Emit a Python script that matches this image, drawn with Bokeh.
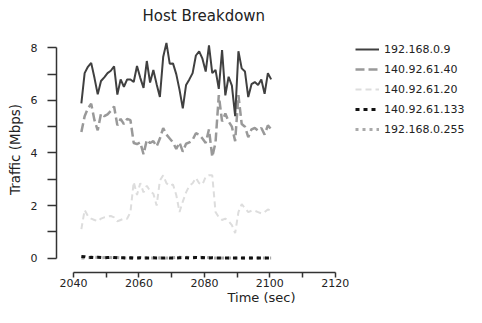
from bokeh.plotting import figure
from bokeh.models import Range1d, FixedTicker, Legend, LegendItem
from bokeh.embed import file_html
from bokeh.resources import INLINE

time_sec = [2042.4, 2043.4, 2044.4, 2045.4, 2046.4, 2047.4, 2048.4, 2049.4, 2050.4, 2051.4,
            2052.4, 2053.4, 2054.4, 2055.4, 2056.4, 2057.4, 2058.4, 2059.4, 2060.4, 2061.4,
            2062.4, 2063.4, 2064.4, 2065.4, 2066.4, 2067.4, 2068.4, 2069.4, 2070.4, 2071.4,
            2072.4, 2073.4, 2074.4, 2075.4, 2076.4, 2077.4, 2078.4, 2079.4, 2080.4, 2081.4,
            2082.4, 2083.4, 2084.4, 2085.4, 2086.4, 2087.4, 2088.4, 2089.4, 2090.4, 2091.4,
            2092.4, 2093.4, 2094.4, 2095.4, 2096.4, 2097.4, 2098.4, 2099.4, 2100.4]

host_192_168_0_9 = [5.89, 7.04, 7.28, 7.43, 6.86, 6.23, 6.74, 6.88, 7.04, 7.13,
                    7.30, 6.22, 6.80, 6.52, 6.80, 6.80, 6.70, 7.31, 6.86, 6.48,
                    7.50, 6.68, 7.16, 6.62, 6.13, 7.65, 8.19, 7.40, 7.41, 7.00,
                    6.40, 5.70, 6.59, 6.80, 7.04, 7.71, 7.87, 7.59, 7.10, 8.10,
                    7.04, 7.16, 6.44, 7.92, 6.19, 6.90, 6.56, 5.40, 7.87, 7.22,
                    7.10, 6.13, 6.62, 6.70, 6.59, 6.80, 6.25, 7.04, 6.80]

host_140_92_61_40 = [4.80, 5.40, 5.70, 5.87, 5.25, 4.86, 5.50, 5.40, 5.47, 5.60,
                     5.77, 5.05, 5.30, 5.10, 5.30, 5.25, 4.38, 4.34, 4.40, 3.95,
                     4.50, 4.38, 4.45, 4.25, 4.55, 4.95, 4.70, 4.55, 4.40, 4.15,
                     4.40, 4.05, 4.35, 4.40, 4.50, 4.75, 4.70, 4.55, 4.38, 4.90,
                     3.85, 4.40, 6.20, 5.20, 5.50, 5.20, 5.00, 4.45, 6.20, 5.10,
                     5.00, 4.60, 4.90, 4.95, 4.85, 4.95, 4.70, 5.05, 4.90]

host_140_92_61_20 = [1.10, 1.83, 1.60, 1.50, 1.45, 1.40, 1.50, 1.55, 1.58, 1.60,
                     1.55, 1.40, 1.45, 1.50, 1.50, 1.75, 2.90, 2.40, 2.85, 2.50,
                     2.75, 2.55, 2.45, 2.00, 2.95, 3.15, 2.85, 2.75, 2.80, 2.40,
                     1.75, 2.15, 2.50, 2.75, 2.85, 3.05, 2.85, 2.80, 3.10, 3.15,
                     3.15, 1.75, 1.55, 1.45, 1.50, 1.40, 1.25, 0.95, 1.75, 2.05,
                     1.90, 1.75, 1.80, 1.80, 1.75, 1.70, 1.75, 1.85, 1.80]

host_140_92_61_133 = [0.06, 0.05, 0.02, 0.03, 0.02, 0.03, 0.02, 0.01, 0.02, 0.03,
                      0.02, 0.01, 0.01, 0.01, 0.00, 0.01, 0.00, 0.00, 0.01, 0.00,
                      0.00, 0.00, 0.01, 0.00, 0.00, 0.00, 0.01, 0.00, 0.00, 0.00,
                      0.01, 0.02, 0.01, 0.00, 0.01, 0.02, 0.01, 0.02, 0.01, 0.00,
                      0.01, 0.00, 0.00, 0.00, 0.00, 0.00, 0.00, 0.00, 0.00, 0.00,
                      0.00, 0.00, 0.00, 0.00, 0.00, 0.00, 0.00, 0.00, 0.00]

host_192_168_0_255 = [0.00, 0.00, 0.01, 0.02, 0.03, 0.02, 0.01, 0.02, 0.03, 0.02,
                      0.01, 0.02, 0.01, 0.00, 0.00, 0.01, 0.00, 0.00, 0.00, 0.00,
                      0.01, 0.00, 0.00, 0.00, 0.01, 0.00, 0.00, 0.00, 0.01, 0.02,
                      0.03, 0.02, 0.03, 0.02, 0.03, 0.02, 0.03, 0.02, 0.03, 0.02,
                      0.01, 0.00, 0.00, 0.00, 0.00, 0.00, 0.00, 0.00, 0.00, 0.00,
                      0.00, 0.00, 0.00, 0.00, 0.00, 0.00, 0.00, 0.00, 0.00]

series_names = ["192.168.0.9", "140.92.61.40", "140.92.61.20", "140.92.61.133", "192.168.0.255"]
y_ticks = [0, 1, 2, 3, 4, 5, 6, 7, 8]
x_ticks = [2040, 2050, 2060, 2070, 2080, 2090, 2100, 2110, 2120]

FONT = "DejaVu Sans"

p = figure(width=466, height=307, output_backend="svg", toolbar_location=None,
           x_range=Range1d(2034.8, 2160.1), y_range=Range1d(-0.55, 8.814),
           min_border_left=56, min_border_right=0, min_border_top=26, min_border_bottom=34,
           title="Host Breakdown")
p.outline_line_color = None
p.xgrid.visible = False
p.ygrid.visible = False

p.title.text_font = FONT
p.title.text_font_size = "15px"
p.title.text_font_style = "normal"
p.title.text_color = "#222222"
p.title.align = "left"
p.title.offset = 86
p.title.standoff = 4

style_specs = [
    (host_192_168_0_9, "#404040", 2.0, "solid"),
    (host_140_92_61_40, "#999999", 2.5, "9 4"),
    (host_140_92_61_20, "#dddddd", 2.0, "6 4"),
    (host_140_92_61_133, "#111111", 3.0, "4 4"),
    (host_192_168_0_255, "#aaaaaa", 3.0, "3 4"),
]

renderers = [None] * len(style_specs)
for idx in reversed(range(len(style_specs))):
    vals, color, lw, dash = style_specs[idx]
    renderers[idx] = p.line(time_sec, vals, line_color=color, line_width=lw, line_dash=dash)

legend = Legend(items=[LegendItem(label=n, renderers=[r]) for n, r in zip(series_names, renderers)],
                location=(299, 133), orientation="vertical")
legend.border_line_color = None
legend.background_fill_alpha = 0
legend.padding = 0
legend.margin = 0
legend.spacing = 0
legend.glyph_width = 24
legend.glyph_height = 20
legend.label_height = 20
legend.label_standoff = 5
legend.label_text_font = FONT
legend.label_text_font_size = "11px"
legend.label_text_color = "#222222"
p.add_layout(legend, "center")

xa = p.xaxis[0]
xa.ticker = FixedTicker(ticks=x_ticks)
xa.bounds = (2040, 2120)
xa.major_label_overrides = {t: ("" if (t // 10) % 2 == 1 else str(t)) for t in x_ticks}
xa.minor_tick_line_color = None
xa.major_tick_out = 5
xa.major_tick_in = 0
xa.major_label_standoff = 1
xa.axis_line_width = 1.5
xa.axis_line_color = "#333333"
xa.major_tick_line_width = 1.5
xa.major_tick_line_color = "#333333"
xa.major_label_text_font = FONT
xa.major_label_text_font_size = "11px"
xa.major_label_text_color = "#222222"
xa.axis_label = "Time (sec)"
xa.axis_label_text_font = FONT
xa.axis_label_text_font_size = "13px"
xa.axis_label_text_font_style = "normal"
xa.axis_label_text_color = "#222222"
xa.axis_label_standoff = 0

ya = p.yaxis[0]
ya.ticker = FixedTicker(ticks=y_ticks)
ya.bounds = (0, 8)
ya.major_label_overrides = {t: ("" if t % 2 == 1 else str(t)) for t in y_ticks}
ya.minor_tick_line_color = None
ya.major_tick_out = 9
ya.major_tick_in = 0
ya.major_label_standoff = 10
ya.major_label_orientation = "horizontal"
ya.axis_line_width = 1.5
ya.axis_line_color = "#333333"
ya.major_tick_line_width = 1.5
ya.major_tick_line_color = "#333333"
ya.major_label_text_font = FONT
ya.major_label_text_font_size = "11px"
ya.major_label_text_color = "#222222"
ya.axis_label = "Traffic (Mbps)"
ya.axis_label_text_font = FONT
ya.axis_label_text_font_size = "13.5px"
ya.axis_label_text_font_style = "normal"
ya.axis_label_text_color = "#222222"
ya.axis_label_standoff = 5

open("out.html", "w").write(file_html(p, INLINE))
